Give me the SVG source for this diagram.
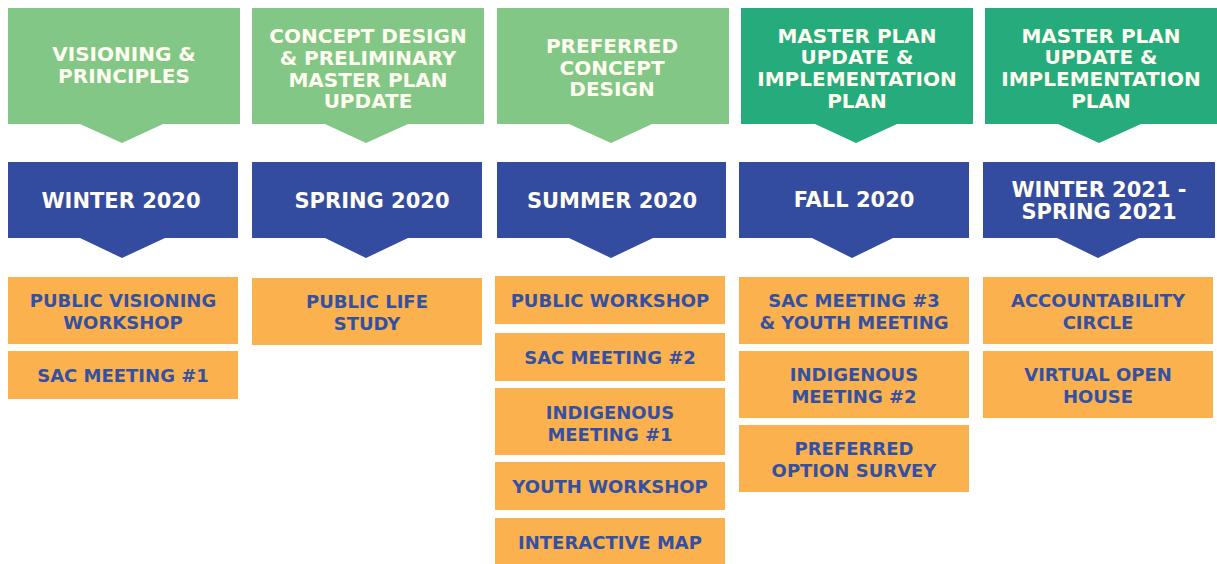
<svg xmlns="http://www.w3.org/2000/svg" width="1217" height="564" viewBox="0 0 1217 564">
  <style>
    .phase { fill: #82C785; }
    .phase-dark { fill: #25AB7C; }
    .season { fill: #344CA0; }
    .event { fill: #FBB14D; }
    text { font-family: "DejaVu Sans", "Liberation Sans", sans-serif; font-weight: bold; text-anchor: middle; }
    .head { fill: #FFFDF0; font-size: 20px; }
    .when { fill: #FFFDF0; font-size: 21px; }
    .ev { fill: #3450A2; font-size: 18px; }
  </style>
  <rect width="1217" height="564" fill="#FFFFFF"/>

  <!-- Phase headers (pointer boxes) -->
  <g id="phase-1">
    <path class="phase" d="M8,8 H240 V124 H163 L122,143 L80,124 H8 Z"/>
    <text class="head" x="124" y="61">VISIONING &amp;</text>
    <text class="head" x="124" y="83">PRINCIPLES</text>
  </g>
  <g id="phase-2">
    <path class="phase" d="M252,8 H484 V124 H408 L366,143 L325,124 H252 Z"/>
    <text class="head" x="368" y="43">CONCEPT DESIGN</text>
    <text class="head" x="368" y="65">&amp; PRELIMINARY</text>
    <text class="head" x="368" y="87">MASTER PLAN</text>
    <text class="head" x="368" y="108">UPDATE</text>
  </g>
  <g id="phase-3">
    <path class="phase" d="M497,8 H729 V124 H652 L611,143 L569,124 H497 Z"/>
    <text class="head" x="612" y="53">PREFERRED</text>
    <text class="head" x="612" y="75">CONCEPT</text>
    <text class="head" x="612" y="96">DESIGN</text>
  </g>
  <g id="phase-4">
    <path class="phase-dark" d="M741,8 H973 V124 H897 L856,143 L815,124 H741 Z"/>
    <text class="head" x="857" y="43">MASTER PLAN</text>
    <text class="head" x="857" y="64">UPDATE &amp;</text>
    <text class="head" x="857" y="86">IMPLEMENTATION</text>
    <text class="head" x="857" y="108">PLAN</text>
  </g>
  <g id="phase-5">
    <path class="phase-dark" d="M985,8 H1217 V124 H1141 L1099,143 L1058,124 H985 Z"/>
    <text class="head" x="1101" y="43">MASTER PLAN</text>
    <text class="head" x="1101" y="64">UPDATE &amp;</text>
    <text class="head" x="1101" y="86">IMPLEMENTATION</text>
    <text class="head" x="1101" y="108">PLAN</text>
  </g>

  <!-- Season bars -->
  <g id="season-1">
    <path class="season" d="M8,162 H238 V238 H165 L122,258 L80,238 H8 Z"/>
    <text class="when" x="121" y="208">WINTER 2020</text>
  </g>
  <g id="season-2">
    <path class="season" d="M252,162 H482 V238 H408 L366,258 L325,238 H252 Z"/>
    <text class="when" x="372" y="208">SPRING 2020</text>
  </g>
  <g id="season-3">
    <path class="season" d="M497,162 H726 V238 H653 L611,258 L569,238 H497 Z"/>
    <text class="when" x="612" y="208">SUMMER 2020</text>
  </g>
  <g id="season-4">
    <path class="season" d="M739,162 H969 V238 H893 L852,258 L812,238 H739 Z"/>
    <text class="when" x="854" y="207">FALL 2020</text>
  </g>
  <g id="season-5">
    <path class="season" d="M983,162 H1215 V238 H1139 L1098,258 L1057,238 H983 Z"/>
    <text class="when" x="1099" y="197">WINTER 2021 -</text>
    <text class="when" x="1099" y="219">SPRING 2021</text>
  </g>

  <!-- Engagement events -->
  <g id="event-public-visioning">
    <rect class="event" x="8" y="277" width="230" height="67"/>
    <text class="ev" x="123" y="307">PUBLIC VISIONING</text>
    <text class="ev" x="123" y="329">WORKSHOP</text>
  </g>
  <g id="event-sac-1">
    <rect class="event" x="8" y="351" width="230" height="48"/>
    <text class="ev" x="123" y="382">SAC MEETING #1</text>
  </g>
  <g id="event-public-life">
    <rect class="event" x="252" y="278" width="230" height="67"/>
    <text class="ev" x="367" y="308">PUBLIC LIFE</text>
    <text class="ev" x="367" y="330">STUDY</text>
  </g>
  <g id="event-public-workshop">
    <rect class="event" x="495" y="276" width="230" height="48"/>
    <text class="ev" x="610" y="307">PUBLIC WORKSHOP</text>
  </g>
  <g id="event-sac-2">
    <rect class="event" x="495" y="333" width="230" height="48"/>
    <text class="ev" x="610" y="364">SAC MEETING #2</text>
  </g>
  <g id="event-indigenous-1">
    <rect class="event" x="495" y="388" width="230" height="67"/>
    <text class="ev" x="610" y="419">INDIGENOUS</text>
    <text class="ev" x="610" y="441">MEETING #1</text>
  </g>
  <g id="event-youth-workshop">
    <rect class="event" x="495" y="462" width="230" height="48"/>
    <text class="ev" x="610" y="493">YOUTH WORKSHOP</text>
  </g>
  <g id="event-interactive-map">
    <rect class="event" x="495" y="518" width="230" height="46"/>
    <text class="ev" x="610" y="549">INTERACTIVE MAP</text>
  </g>
  <g id="event-sac-3">
    <rect class="event" x="739" y="277" width="230" height="67"/>
    <text class="ev" x="854" y="307">SAC MEETING #3</text>
    <text class="ev" x="854" y="329">&amp; YOUTH MEETING</text>
  </g>
  <g id="event-indigenous-2">
    <rect class="event" x="739" y="351" width="230" height="67"/>
    <text class="ev" x="854" y="381">INDIGENOUS</text>
    <text class="ev" x="854" y="403">MEETING #2</text>
  </g>
  <g id="event-option-survey">
    <rect class="event" x="739" y="425" width="230" height="67"/>
    <text class="ev" x="854" y="455">PREFERRED</text>
    <text class="ev" x="854" y="477">OPTION SURVEY</text>
  </g>
  <g id="event-accountability">
    <rect class="event" x="983" y="277" width="230" height="67"/>
    <text class="ev" x="1098" y="307">ACCOUNTABILITY</text>
    <text class="ev" x="1098" y="329">CIRCLE</text>
  </g>
  <g id="event-open-house">
    <rect class="event" x="983" y="351" width="230" height="67"/>
    <text class="ev" x="1098" y="381">VIRTUAL OPEN</text>
    <text class="ev" x="1098" y="403">HOUSE</text>
  </g>

  <!-- No separate connectors: the pointer tips are part of the header shapes -->
  <g id="connectors"/>
</svg>
